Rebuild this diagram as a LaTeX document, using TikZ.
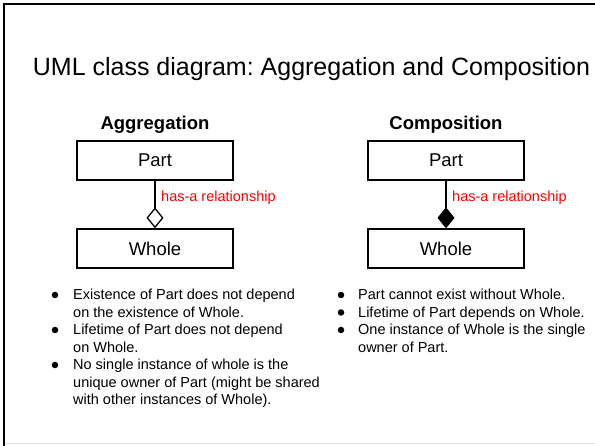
\documentclass[tikz,border=0pt]{standalone}
\usepackage{fontspec}
\setmainfont{Liberation Sans}
\usetikzlibrary{arrows.meta}
\definecolor{relred}{RGB}{255,0,0}
\definecolor{edgegray}{RGB}{225,225,225}
\frenchspacing
\begin{document}
\begin{tikzpicture}[x=1pt,y=-1pt,
  classbox/.style={draw, line width=1.3pt, minimum width=156pt, minimum height=39pt,
    inner sep=0pt, font=\fontsize{18.5}{20}\selectfont},
  heading/.style={font=\fontsize{18.5}{20}\selectfont\bfseries, inner sep=0pt, anchor=base},
  rellabel/.style={text=relred, font=\fontsize{14.5}{16}\selectfont, inner sep=0pt, anchor=base west},
  bodyline/.style={font=\fontsize{14.5}{16}\selectfont, inner sep=0pt, anchor=base west},
  dot/.style={circle, fill=black, inner sep=0pt, minimum size=6.5pt},
  assoc/.style={line width=1.3pt}
]
\useasboundingbox (0,0) rectangle (595,446);
\fill[white] (0,0) rectangle (595,446);

% slide frame
\draw[edgegray, line width=1pt] (5,444) -- (595,444);
\draw[line width=2.5pt] (4,446) -- (4,4) -- (595,4);

% title
\node[font=\fontsize{25}{28}\selectfont, inner sep=0pt, anchor=base] (title) at (311.5,76)
  {UML class diagram: Aggregation and Composition};

% aggregation
\node[heading] (aggh) at (155,130) {Aggregation};
\node[classbox] (partA) at (155,160.5) {Part};
\node[classbox] (wholeA) at (155,248.5) {Whole};
\draw[assoc, -{Diamond[open, length=21pt, width=17pt, line width=1.3pt]}] (partA) -- (wholeA);
\node[rellabel] (relA) at (161,202) {has-a relationship};

% composition
\node[heading] (comph) at (446,130) {Composition};
\node[classbox] (partC) at (446,160.5) {Part};
\node[classbox] (wholeC) at (446,248.5) {Whole};
\draw[assoc, -{Diamond[length=21pt, width=17pt]}] (partC) -- (wholeC);
\node[rellabel] (relC) at (452,202) {has-a relationship};

% aggregation notes
\node[dot] (bA1) at (55,295) {};
\node[bodyline] (lA1) at (73,300) {Existence of Part does not depend};
\node[bodyline] (lA2) at (73,317.5) {on the existence of Whole.};
\node[dot] (bA2) at (55,330) {};
\node[bodyline] (lA3) at (73,335) {Lifetime of Part does not depend};
\node[bodyline] (lA4) at (73,352.5) {on Whole.};
\node[dot] (bA3) at (55,365) {};
\node[bodyline] (lA5) at (73,370) {No single instance of whole is the};
\node[bodyline] (lA6) at (73,387.5) {unique owner of Part (might be shared};
\node[bodyline] (lA7) at (73,405) {with other instances of Whole).};

% composition notes
\node[dot] (bC1) at (341,295) {};
\node[bodyline] (lC1) at (358,300) {Part cannot exist without Whole.};
\node[dot] (bC2) at (341,312.5) {};
\node[bodyline] (lC2) at (358,317.5) {Lifetime of Part depends on Whole.};
\node[dot] (bC3) at (341,330) {};
\node[bodyline] (lC3) at (358,335) {One instance of Whole is the single};
\node[bodyline] (lC4) at (358,352.5) {owner of Part.};
\end{tikzpicture}
\end{document}
